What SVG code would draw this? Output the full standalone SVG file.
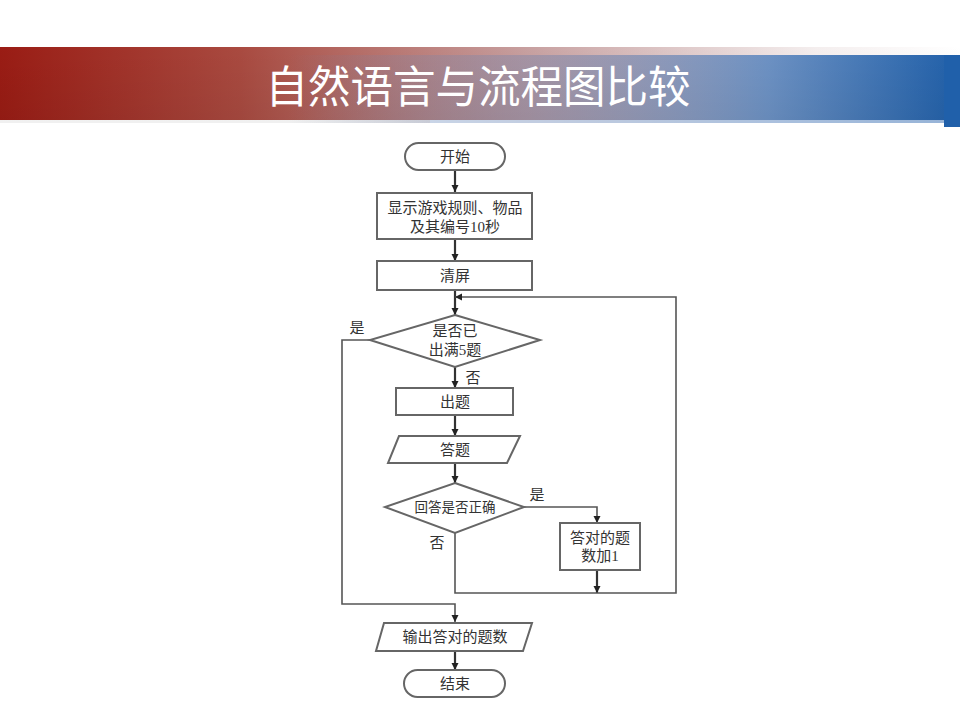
<svg xmlns="http://www.w3.org/2000/svg" width="960" height="720" viewBox="0 0 960 720">
  <defs>
    <linearGradient id="bandRed" x1="0" y1="0" x2="1" y2="0">
      <stop offset="0" stop-color="#9a1c14"/>
      <stop offset="0.25" stop-color="#a94a40"/>
      <stop offset="0.55" stop-color="#c7a0a0"/>
      <stop offset="0.85" stop-color="#f4eeee"/>
      <stop offset="1" stop-color="#ffffff"/>
    </linearGradient>
    <linearGradient id="bandBlue" x1="0" y1="0" x2="1" y2="0">
      <stop offset="0" stop-color="#2a62ad" stop-opacity="0"/>
      <stop offset="0.3" stop-color="#6a7fa8" stop-opacity="0"/>
      <stop offset="0.55" stop-color="#8a8aa8" stop-opacity="0.55"/>
      <stop offset="0.8" stop-color="#6d92c4" stop-opacity="1"/>
      <stop offset="1" stop-color="#2060aa" stop-opacity="1"/>
    </linearGradient>
    <linearGradient id="bandShade" x1="0" y1="0" x2="0" y2="1">
      <stop offset="0" stop-color="#000" stop-opacity="0"/>
      <stop offset="1" stop-color="#000" stop-opacity="0.06"/>
    </linearGradient>
    <marker id="arrow" viewBox="0 0 10 10" refX="10" refY="5" markerWidth="7" markerHeight="9" markerUnits="userSpaceOnUse" orient="auto">
      <path d="M0,0 L10,5 L0,10 z" fill="#222"/>
    </marker>
    <style>
      .shape { fill: #ffffff; stroke: #666; stroke-width: 2; }
      .line { fill: none; stroke: #555; stroke-width: 1.6; }
      .flow { fill: none; stroke: #333; stroke-width: 2.2; }
      .lbl { font-family: "Liberation Serif", "Noto Sans CJK SC", serif; font-size: 15px; fill: #333; text-anchor: middle; dominant-baseline: central; }
      .small { font-size: 13.5px; }
      .title { font-family: "Noto Sans CJK SC", "Noto Sans", sans-serif; font-size: 44px; fill: #ffffff; text-anchor: middle; }
    </style>
  </defs>

  <!-- title band -->
  <g id="header">
    <rect x="0" y="47" width="960" height="73" fill="url(#bandRed)"/>
    <rect x="0" y="55" width="960" height="68" fill="url(#bandBlue)"/>
    <rect x="0" y="47" width="960" height="76" fill="url(#bandShade)"/>
    <rect x="944" y="55" width="16" height="72" fill="#2060aa"/>
    <rect x="430" y="120" width="514" height="3" fill="#c9d8ee" opacity="0.7"/>
    <text class="title" x="478" y="103" textLength="425" lengthAdjust="spacingAndGlyphs">自然语言与流程图比较</text>
  </g>

  <!-- connectors -->
  <g id="connectors">
    <line class="flow" x1="455" y1="170" x2="455" y2="192" marker-end="url(#arrow)"/>
    <line class="flow" x1="455" y1="239" x2="455" y2="261" marker-end="url(#arrow)"/>
    <line class="flow" x1="455" y1="290" x2="455" y2="315" marker-end="url(#arrow)"/>
    <line class="flow" x1="455" y1="367" x2="455" y2="388" marker-end="url(#arrow)"/>
    <line class="flow" x1="455" y1="415" x2="455" y2="436" marker-end="url(#arrow)"/>
    <line class="flow" x1="455" y1="463" x2="455" y2="483" marker-end="url(#arrow)"/>
    <!-- yes branch of the answer check -->
    <polyline class="line" points="524,507 597,507 597,523" marker-end="url(#arrow)"/>
    <line class="flow" x1="597" y1="570" x2="597" y2="593" marker-end="url(#arrow)"/>
    <!-- loop back to the question counter -->
    <polyline class="line" points="455,533 455,593 676,593 676,297 455,297" marker-end="url(#arrow)"/>
    <!-- exit when five questions are done -->
    <polyline class="line" points="370,340 342,340 342,604 455,604 455,622" marker-end="url(#arrow)"/>
    <line class="flow" x1="455" y1="651" x2="455" y2="670" marker-end="url(#arrow)"/>
    <text class="lbl" x="357" y="328">是</text>
    <text class="lbl" x="473" y="378">否</text>
    <text class="lbl" x="537" y="495">是</text>
    <text class="lbl" x="437" y="543">否</text>
  </g>

  <g id="start">
    <rect class="shape" x="405" y="143" width="100" height="27" rx="13.5"/>
    <text class="lbl" x="455" y="157">开始</text>
  </g>

  <g id="show-rules">
    <rect class="shape" x="377" y="193" width="155" height="46"/>
    <text class="lbl" x="455" y="208">显示游戏规则、物品</text>
    <text class="lbl" x="455" y="227">及其编号10秒</text>
  </g>

  <g id="clear-screen">
    <rect class="shape" x="377" y="261" width="155" height="29"/>
    <text class="lbl" x="455" y="276">清屏</text>
  </g>

  <g id="check-count">
    <polygon class="shape" points="455,315 540,340 455,367 370,340"/>
    <text class="lbl" x="455" y="331">是否已</text>
    <text class="lbl" x="455" y="350">出满5题</text>
  </g>

  <g id="ask">
    <rect class="shape" x="396" y="388" width="117" height="27"/>
    <text class="lbl" x="455" y="402">出题</text>
  </g>

  <g id="answer">
    <polygon class="shape" points="399,436 520,436 507,463 388,463"/>
    <text class="lbl" x="455" y="450">答题</text>
  </g>

  <g id="check-answer">
    <polygon class="shape" points="455,483 524,507 455,533 385,507"/>
    <text class="lbl small" x="455" y="507">回答是否正确</text>
  </g>

  <g id="add-score">
    <rect class="shape" x="560" y="523" width="80" height="47"/>
    <text class="lbl" x="600" y="538">答对的题</text>
    <text class="lbl" x="600" y="556">数加1</text>
  </g>

  <g id="output">
    <polygon class="shape" points="384,623 532,623 523,651 376,651"/>
    <text class="lbl" x="455" y="637">输出答对的题数</text>
  </g>

  <g id="end">
    <rect class="shape" x="404" y="670" width="101" height="27" rx="13.5"/>
    <text class="lbl" x="455" y="684">结束</text>
  </g>
</svg>
